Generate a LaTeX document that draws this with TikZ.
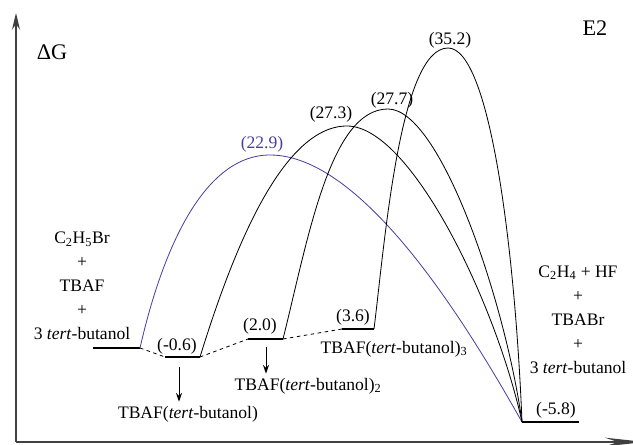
\documentclass[tikz,border=0pt]{standalone}
\usepackage{fontspec}
\setmainfont{Liberation Serif}
\newfontfamily\lserif{Liberation Serif}
\usetikzlibrary{arrows.meta}
\definecolor{tsblue}{RGB}{75,62,160}
\tikzset{
  axis/.style={line width=1.1pt, black!75},
  level/.style={line width=0.9pt},
  barrier/.style={line width=0.7pt},
  link/.style={dashed, line width=0.7pt},
  drop/.style={line width=0.8pt, -{Stealth[length=2.6mm,width=1.8mm]}},
  energy/.style={inner sep=1pt},
  species/.style={align=center},
  big/.style={font=\lserif\fontsize{19}{22}\selectfont},
}
\begin{document}
\begin{tikzpicture}[x=0.3cm, y=0.3cm, every node/.style={font=\lserif\fontsize{15}{20.5}\selectfont}]
\useasboundingbox (0,0) rectangle (63.3,44.4);
% axes
\coordinate (O) at (1.6,0.2);
\coordinate (Ytop) at (1.6,43.1);
\coordinate (Xend) at (64.5,0.2);
\draw[axis, -{Stealth[length=5mm,width=2.4mm]}] (O) -- (Ytop);
\draw[axis, -{Stealth[length=12mm,width=2.6mm]}] (O) -- (Xend);
\node[big] (dG) at (5.2,39.2) {ΔG};
\node[big] (mech) at (59.5,41.6) {E2};
% levels
\coordinate (R1) at (9.3,9.6);   \coordinate (R2) at (14.0,9.6);
\coordinate (I1a) at (16.5,8.7); \coordinate (I1b) at (20.0,8.7);
\coordinate (I2a) at (24.8,10.5); \coordinate (I2b) at (28.3,10.5);
\coordinate (I3a) at (34.2,11.5); \coordinate (I3b) at (37.4,11.5);
\coordinate (P1) at (52.2,2.2);  \coordinate (P2) at (57.9,2.2);
\draw[level] (R1) -- (R2);
\draw[level] (I1a) -- (I1b);
\draw[level] (I2a) -- (I2b);
\draw[level] (I3a) -- (I3b);
\draw[level] (P1) -- (P2);
\draw[link] (R2) -- (I1a);
\draw[link] (I1b) -- (I2a);
\draw[link] (I2b) -- (I3a);
% transition states
\coordinate (T0) at (27.0,28.9);
\coordinate (T1) at (34.7,31.8);
\coordinate (T2) at (38.8,33.5);
\coordinate (T3) at (44.8,39.6);
\draw[barrier, tsblue] (R2) .. controls +(2.0,8.8) and +(-7.0,0) .. (T0)
  .. controls +(9.5,0) and +(-5.2,9.2) .. (P1);
\draw[barrier] (I1b) .. controls +(3.0,9.7) and +(-6.7,0) .. (T1)
  .. controls +(6.3,0) and +(-2.7,12.2) .. (P1);
\draw[barrier] (I2b) .. controls +(2.5,10.0) and +(-5.8,0) .. (T2)
  .. controls +(5.2,0) and +(-1.7,12.2) .. (P1);
\draw[barrier] (I3b) .. controls +(1.1,8.9) and +(-4.8,0) .. (T3)
  .. controls +(4.2,0) and +(-0.7,17.2) .. (P1);
% energies
\node[energy, tsblue] (e0) at (26.2,30.0) {(22.9)};
\node[energy] (e1) at (33.1,33.0) {(27.3)};
\node[energy] (e2) at (39.2,34.4) {(27.7)};
\node[energy] (e3) at (45.0,40.4) {(35.2)};
\node[energy] (eI1) at (17.7,9.8) {(-0.6)};
\node[energy] (eI2) at (26.0,11.8) {(2.0)};
\node[energy] (eI3) at (35.3,12.7) {(3.6)};
\node[energy] (eP) at (55.6,3.4) {(-5.8)};
% species
\node[species] (reac) at (8.2,15.8) {C\textsubscript{2}H\textsubscript{5}Br\\+\\TBAF\\+\\3 \textit{tert}-butanol};
\node[species] (prod) at (57.8,12.45) {C\textsubscript{2}H\textsubscript{4} + HF\\+\\TBABr\\+\\3 \textit{tert}-butanol};
\node[anchor=base] (c1) at (18.8,2.6) {TBAF(\textit{tert}-butanol)};
\node[anchor=base] (c2) at (30.8,5.4) {TBAF(\textit{tert}-butanol)\textsubscript{2}};
\node[anchor=base] (c3) at (39.4,9.1) {TBAF(\textit{tert}-butanol)\textsubscript{3}};
\coordinate (a1) at (17.9,7.7);
\coordinate (a2) at (26.6,9.7);
\draw[drop] (a1) -- (a1 |- c1.north);
\draw[drop] (a2) -- (a2 |- c2.north);
\end{tikzpicture}
\end{document}
